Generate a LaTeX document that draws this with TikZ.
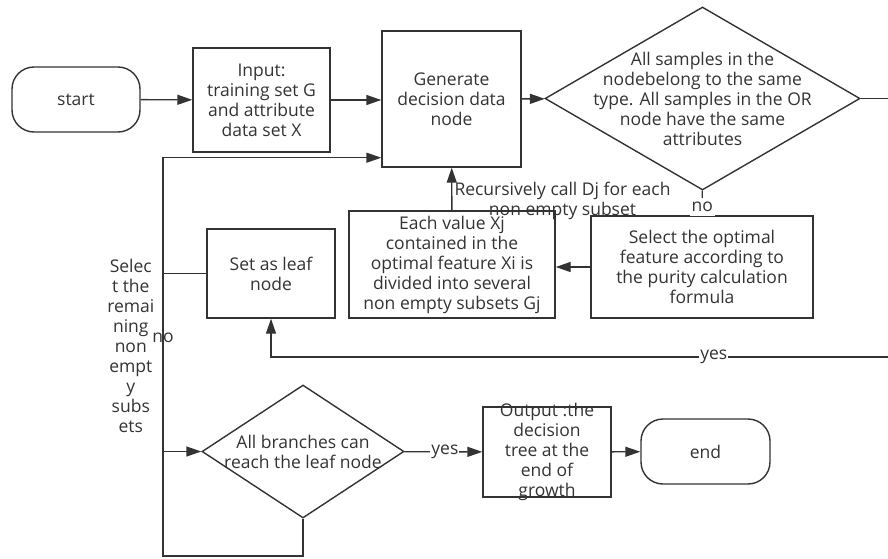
\documentclass[tikz,border=0pt]{standalone}
\usepackage{fontspec}
\setmainfont{Open Sans}
\usetikzlibrary{shapes.geometric,arrows.meta}
\definecolor{ink}{HTML}{333333}
\tikzset{
  box/.style={draw=ink, line width=1.4pt, text=ink, align=center, inner xsep=0pt, inner ysep=2pt},
  term/.style={box, rounded corners=22pt},
  decision/.style={draw=ink, line width=1.4pt, diamond, inner sep=0pt},
  lbl/.style={text=ink, align=center},
  link/.style={draw=ink, line width=1.4pt},
  flow/.style={link, -{Triangle[length=15pt,width=10pt]}},
}
\begin{document}
\begin{tikzpicture}[x=1pt, y=-1pt, font=\fontsize{17.5}{20}\selectfont]
    \clip (0,0) rectangle (888,558);
    \node[term, minimum width=128pt, minimum height=65pt] (start) at (76,99.5) {start};
    \node[box, minimum width=137pt, minimum height=104pt] (input) at (261.5,100) {Input:\\training set G\\and attribute\\data set X};
    \node[box, minimum width=139pt, minimum height=136pt] (gen) at (451.5,99) {Generate\\decision data\\node};
    \node[decision, minimum width=315pt, minimum height=183pt,
          label={[lbl]center:All samples in the\\nodebelong to the same\\type. All samples in the OR\\node have the same\\attributes}] (same) at (702.5,98.5) {};
    \node[box, minimum width=222pt, minimum height=102pt] (optimal) at (702,267) {Select the optimal\\feature according to\\the purity calculation\\formula};
    \node[box, minimum width=206pt, minimum height=107pt] (split) at (452,264.5) {Each value Xj\\contained in the\\optimal feature Xi is\\divided into several\\non empty subsets Gj};
    \node[box, minimum width=128pt, minimum height=89pt] (leaf) at (271,273.5) {Set as leaf\\node};
    \node[decision, minimum width=202pt, minimum height=133pt,
          label={[lbl]center:All branches can\\reach the leaf node}] (branch) at (303,451.5) {};
    \node[box, minimum width=128pt, minimum height=90pt, inner ysep=-8pt] (output) at (547,452) {Output :the\\decision\\tree at the\\end of\\growth};
    \node[term, minimum width=129pt, minimum height=65pt] (end) at (705.5,451.5) {end};
    \coordinate (rc) at (900,98.5);
    \coordinate (yesrow) at (900,357);
    \coordinate (lc) at (163,0);
    \coordinate (loopbot) at (163,556);
    \draw[flow] (start) -- (input);
    \draw[flow] (input.east) -- (input.east -| gen.west);
    \draw[flow] (gen) -- (same);
    \draw[flow] (same) -- node[lbl, fill=white, inner xsep=2pt, inner ysep=4pt, pos=0.66] {no} (optimal);
    \draw[flow] (optimal.west) -- (optimal.west -| split.east);
    \draw[flow] (split) -- node[lbl, pos=0.23, anchor=west, inner sep=2pt] {Recursively call Dj for each\\non empty subset} (gen);
    \draw[flow] (same.east) -- (rc) -- (yesrow) -| node[lbl, pos=0.148, fill=white, inner sep=1pt] {yes} (leaf);
    \draw[flow] (leaf.west) -- (leaf.west -| lc) |- (branch.west);
    \draw[flow] (branch.south) |- (loopbot) |- node[lbl, pos=0.274, inner sep=0pt] {no}
        node[lbl, pos=0.264, left, xshift=-8pt, inner sep=0pt] {Selec\\t the\\remai\\ning\\non\\empt\\y\\subs\\ets} ([yshift=10pt]gen.south west);
    \draw[flow] (branch) -- node[lbl, pos=0.52, fill=white, inner sep=1pt] {yes} (output);
    \draw[flow] (output) -- (end);
\end{tikzpicture}
\end{document}
